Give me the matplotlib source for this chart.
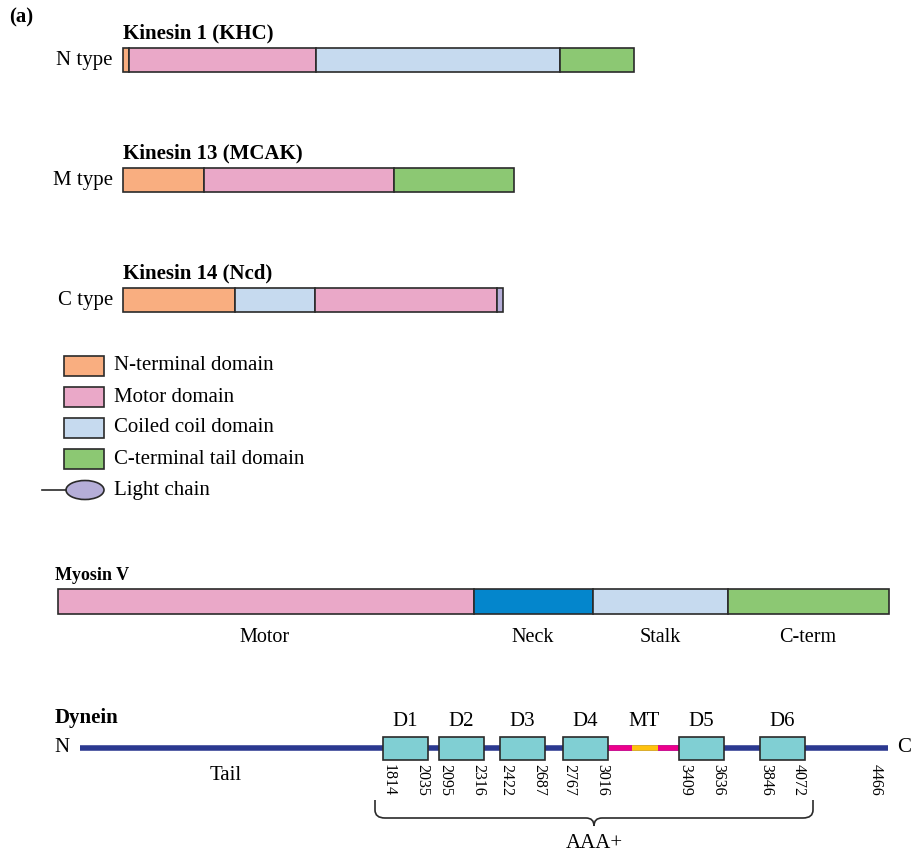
import numpy as np
import matplotlib.pyplot as plt
from matplotlib.patches import Rectangle, Ellipse
from matplotlib.path import Path
from matplotlib.patches import PathPatch

plt.rcParams['font.family'] = ['Liberation Serif', 'DejaVu Serif']

# domain colours
colors = {'N': '#f9ae80', 'motor': '#eaa8c8', 'coil': '#c6daef',
          'C': '#8cc873', 'light': '#b5aed8', 'neck': '#0486cc'}

# kinesins (segment lengths in schematic units)
kin_titles = ['Kinesin 1 (KHC)', 'Kinesin 13 (MCAK)', 'Kinesin 14 (Ncd)']
kin_types = ['N type', 'M type', 'C type']
kin_domains = [['N', 'motor', 'coil', 'C'],
               ['N', 'motor', 'C'],
               ['N', 'coil', 'motor', 'light']]
kin_lengths = [[6, 187, 244, 74],
               [81, 190, 120],
               [112, 80, 182, 6]]

legend_keys = ['N', 'motor', 'coil', 'C']
legend_labels = ['N-terminal domain', 'Motor domain', 'Coiled coil domain',
                 'C-terminal tail domain', 'Light chain']

# myosin V
myo_labels = ['Motor', 'Neck', 'Stalk', 'C-term']
myo_domains = ['motor', 'neck', 'coil', 'C']
myo_lengths = [416, 119, 135, 161]

# dynein
dyn_names = ['D1', 'D2', 'D3', 'D4', 'D5', 'D6']
dyn_start = [1814, 2095, 2422, 2767, 3409, 3846]
dyn_end = [2035, 2316, 2687, 3016, 3636, 4072]
dyn_total = 4466
# schematic x of each box (not to scale)
dyn_box_x = [383, 439, 500, 563, 679, 760]
dyn_box_w = 45
mt_segments = [(608, 632, '#ec008c'), (632, 658, '#ffc20e'), (658, 679, '#ec008c')]

fig = plt.figure(figsize=(9.12, 8.59), dpi=100)
ax = fig.add_axes([0, 0, 1, 1])
ax.set_xlim(0, 912)
ax.set_ylim(859, 0)
ax.axis('off')

fs = 15
nfs = 11.5
edge = '#2a2a2a'

ax.text(9, 17, '(a)', fontsize=fs, fontweight='bold', va='center')

kin_y = [60, 180, 300]
for title, typ, doms, lens, y in zip(kin_titles, kin_types, kin_domains, kin_lengths, kin_y):
    lefts = 123 + np.concatenate([[0], np.cumsum(lens)[:-1]])
    ax.barh([y] * len(lens), lens, left=lefts, height=24,
            color=[colors[d] for d in doms], edgecolor=edge, linewidth=1.2)
    ax.text(123, y - 27, title, fontsize=fs, fontweight='bold', va='center')
    ax.text(113, y + 1, typ, fontsize=fs, va='center', ha='right')

# legend
for i, lab in enumerate(legend_labels):
    yy = 366 + i * 31
    if i < 4:
        ax.add_patch(Rectangle((64, yy - 10), 40, 20, facecolor=colors[legend_keys[i]],
                               edgecolor=edge, linewidth=1.2))
    else:
        ax.plot([42, 66], [yy, yy], color=edge, lw=1.2)
        ax.add_patch(Ellipse((85, yy), 38, 19, facecolor=colors['light'],
                             edgecolor=edge, linewidth=1.2))
    ax.text(114, yy, lab, fontsize=fs, va='center')

# myosin V
ax.text(55, 575, 'Myosin V', fontsize=13, fontweight='bold', va='center')
lefts = 58 + np.concatenate([[0], np.cumsum(myo_lengths)[:-1]])
ax.barh([601] * 4, myo_lengths, left=lefts, height=25,
        color=[colors[d] for d in myo_domains], edgecolor=edge, linewidth=1.2)
label_x = [265, 533, 660, 808]
for lab, lx in zip(myo_labels, label_x):
    ax.text(lx, 637, lab, fontsize=14.5, ha='center', va='center')

# dynein
ax.text(55, 718, 'Dynein', fontsize=fs, fontweight='bold', va='center')
ax.text(62, 748, 'N', fontsize=fs, ha='center', va='center')
ax.text(904, 748, 'C', fontsize=fs, ha='center', va='center')
ax.plot([80, 888], [748, 748], color='#2b3990', lw=4, solid_capstyle='butt', zorder=1)
for x0, x1, c in mt_segments:
    ax.plot([x0, x1], [748, 748], color=c, lw=4, solid_capstyle='butt', zorder=2)
ax.text(644, 722, 'MT', fontsize=fs, ha='center', va='center')
ax.text(226, 776, 'Tail', fontsize=fs, ha='center', va='center')
for name, s, e, bx in zip(dyn_names, dyn_start, dyn_end, dyn_box_x):
    ax.add_patch(Rectangle((bx, 737), dyn_box_w, 23, facecolor='#80cfd3',
                           edgecolor=edge, linewidth=1.2, zorder=3))
    ax.text(bx + dyn_box_w / 2, 722, name, fontsize=fs, ha='center', va='center')
    ax.text(bx + 6, 764, str(s), fontsize=nfs, rotation=270, ha='center', va='top')
    ax.text(bx + dyn_box_w - 6, 764, str(e), fontsize=nfs, rotation=270, ha='center', va='top')
ax.text(876, 764, str(dyn_total), fontsize=nfs, rotation=270, ha='center', va='top')

# brace under AAA+ domains
x0, x1, xm = 375, 813, 594
yt, yb = 800, 818
verts = [(x0, yt), (x0, yb - 8), (x0, yb), (x0 + 10, yb), (xm - 8, yb), (xm, yb), (xm, yb + 8),
         (xm, yb + 8), (xm, yb), (xm + 8, yb), (x1 - 10, yb), (x1, yb), (x1, yb - 8), (x1, yt)]
codes = [Path.MOVETO, Path.LINETO, Path.CURVE3, Path.CURVE3, Path.LINETO, Path.CURVE3, Path.CURVE3,
         Path.MOVETO, Path.CURVE3, Path.CURVE3, Path.LINETO, Path.CURVE3, Path.CURVE3, Path.LINETO]
ax.add_patch(PathPatch(Path(verts, codes), facecolor='none', edgecolor=edge, lw=1.2))
ax.text(xm, 843, 'AAA+', fontsize=fs, ha='center', va='center')

fig.savefig('out.png', dpi=100)
